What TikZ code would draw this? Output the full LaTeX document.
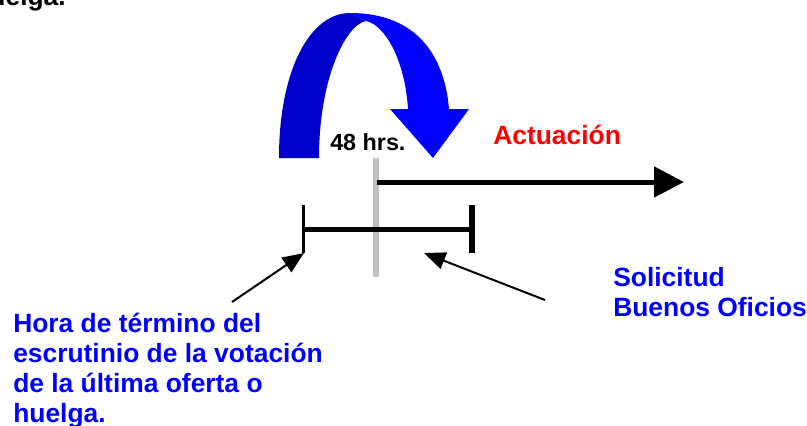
\documentclass[tikz,border=0pt]{standalone}
\usepackage{fontspec}
\setmainfont{Liberation Sans}
\usepackage{tikz}
\usetikzlibrary{arrows.meta, positioning}
\definecolor{azul}{RGB}{0,0,255}
\definecolor{azuloscuro}{RGB}{0,0,204}
\definecolor{rojo}{RGB}{255,0,0}
\definecolor{gris}{RGB}{192,192,192}
\tikzstyle{txtazul} = [anchor=base west, inner sep=0pt, text=azul, align=left, font=\fontsize{19.8}{22.3}\selectfont\bfseries]
\tikzstyle{txtrojo} = [anchor=base west, inner sep=0pt, text=rojo, font=\fontsize{19.8}{22.3}\selectfont\bfseries]
\tikzstyle{txtnegro} = [anchor=base west, inner sep=0pt, text=black, font=\fontsize{17.5}{21}\selectfont\bfseries]
\tikzstyle{flecha} = [draw, line width=1.5pt, -{Triangle[length=16pt, width=13pt]}]

\begin{document}
\begin{tikzpicture}[x=0.75pt, y=-0.75pt]
			\useasboundingbox (0,0) rectangle (807,425);
			
			\fill [azuloscuro] (279,158) .. controls (279,70) and (310,13) .. (350,13) -- (366,21) .. controls (345,25) and (319,80) .. (319,158) -- cycle;
			\fill [azul] (350,13) .. controls (420,13) and (445,60) .. (449,109) -- (469,109) -- (433,158) -- (390,109) -- (408,109) .. controls (405,60) and (385,25) .. (366,21) -- cycle;
			
			\node [txtnegro, anchor=base east, font=\fontsize{19.8}{22.3}\selectfont\bfseries] (huelga) at (66,5) {huelga.};
			\node [txtnegro] (hrs) at (330,150) {48 hrs.};
			\node [txtrojo] (actuacion) at (493,144) {Actuación};
			\node [txtazul] (hora) at (13,422) {Hora de término del\\escrutinio de la votación\\de la última oferta o\\huelga.};
			\node [txtazul] (solicitud) at (613,316) {Solicitud\\Buenos Oficios};
			
			\coordinate (g0) at (376,158);
			\coordinate (g1) at (376,277);
			\coordinate (t0) at (377,182);
			\coordinate (t1) at (684,182);
			\coordinate (b0) at (303,229);
			\coordinate (b1) at (470,229);
			\coordinate (l0) at (303.5,205);
			\coordinate (l1) at (303.5,253);
			\coordinate (r0) at (471.5,205);
			\coordinate (r1) at (471.5,253);
			\coordinate (p0) at (232,302);
			\coordinate (p1) at (304,253);
			\coordinate (q0) at (545,300);
			\coordinate (q1) at (424,253);
			
			\path [draw, gris, line width=4.5pt] (g0) -- (g1);
			\path [draw, line width=3.75pt, -{Triangle[length=22.5pt, width=22.5pt]}] (t0) -- (t1);
			\path [draw, line width=3.75pt] (b0) -- (b1);
			\path [draw, line width=1.75pt] (l0) -- (l1);
			\path [draw, line width=4.5pt] (r0) -- (r1);
			\path [flecha] (p0) -- (p1);
			\path [flecha] (q0) -- (q1);
		\end{tikzpicture}
\end{document}
